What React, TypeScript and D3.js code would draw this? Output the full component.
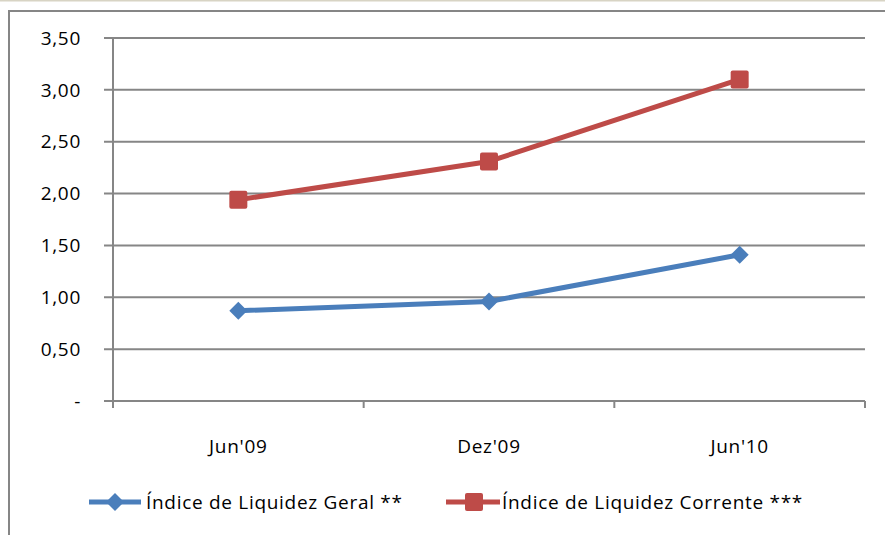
import React from "react";
import * as d3 from "d3";

const categories = ["Jun'09", "Dez'09", "Jun'10"];
const geral = [0.87, 0.96, 1.41];
const corrente = [1.94, 2.31, 3.1];
const yTicks = [0, 0.5, 1, 1.5, 2, 2.5, 3, 3.5];
const seriesNames = ["Índice de Liquidez Geral **", "Índice de Liquidez Corrente ***"];

const W = 885;
const H = 535;
const margin = { left: 113, right: 20, top: 38, bottom: 134 };
const BLUE = "#4a7ebb";
const RED = "#be4b48";
const GRID = "#868686";
const FONT = "Open Sans, Liberation Sans, sans-serif";
const FS = 19;
const LS = 0.7;

const fmt = (v: number) => (v === 0 ? "-" : v.toFixed(2).replace(".", ","));

export default function App() {
  const x = d3
    .scaleBand<string>()
    .domain(categories)
    .range([margin.left, W - margin.right]);
  const y = d3
    .scaleLinear()
    .domain([0, 3.5])
    .range([H - margin.bottom, margin.top]);

  const line = d3
    .line<number>()
    .x((_, i) => x(categories[i])! + x.bandwidth() / 2)
    .y((d) => y(d));

  const diamond = (cx: number, cy: number, r: number) =>
    `M${cx},${cy - r}L${cx + r},${cy}L${cx},${cy + r}L${cx - r},${cy}Z`;

  const xEdges = [...categories.map((c) => x(c)!), x(categories[2])! + x.bandwidth()];

  return (
    <svg
      width={W}
      height={H}
      style={{ position: "absolute", left: 0, top: 0 }}
      fontFamily={FONT}
      letterSpacing={LS}
    >
      <rect x={0} y={0} width={W} height={H} fill="#fff" />
      <line x1={0} x2={W} y1={0.5} y2={0.5} stroke="#d8d4c4" strokeWidth={2} />
      {/* frame */}
      <path d={`M9,${H}V11H${W}`} fill="none" stroke={GRID} strokeWidth={2} />

      {/* gridlines + y labels */}
      {yTicks.map((t) => (
        <g key={t}>
          <line
            x1={margin.left - 9}
            x2={W - margin.right}
            y1={y(t)}
            y2={y(t)}
            stroke={GRID}
            strokeWidth={2}
          />
          <text
            x={81}
            y={y(t)}
            dy="0.35em"
            textAnchor="end"
            fontSize={FS}
            fill="#000"
          >
            {fmt(t)}
          </text>
        </g>
      ))}
      {/* y axis */}
      <line
        x1={margin.left}
        x2={margin.left}
        y1={y(3.5)}
        y2={y(0) + 7}
        stroke={GRID}
        strokeWidth={2}
      />
      {/* x ticks */}
      {xEdges.map((ex, i) => (
        <line key={i} x1={ex} x2={ex} y1={y(0)} y2={y(0) + 7} stroke={GRID} strokeWidth={2} />
      ))}
      {categories.map((c) => (
        <text
          key={c}
          x={x(c)! + x.bandwidth() / 2}
          y={446}
          dy="0.35em"
          textAnchor="middle"
          fontSize={FS}
        >
          {c}
        </text>
      ))}

      {/* series */}
      <path d={line(geral)!} fill="none" stroke={BLUE} strokeWidth={5} strokeLinejoin="round" />
      {geral.map((v, i) => (
        <path
          key={i}
          d={diamond(x(categories[i])! + x.bandwidth() / 2, y(v), 9)}
          fill={BLUE}
        />
      ))}
      <path d={line(corrente)!} fill="none" stroke={RED} strokeWidth={5} strokeLinejoin="round" />
      {corrente.map((v, i) => (
        <rect
          key={i}
          x={x(categories[i])! + x.bandwidth() / 2 - 9}
          y={y(v) - 9}
          width={18}
          height={18}
          rx={2}
          fill={RED}
        />
      ))}

      {/* legend */}
      <g>
        <line x1={89} x2={141} y1={502} y2={502} stroke={BLUE} strokeWidth={5} />
        <path d={diamond(115, 502, 9)} fill={BLUE} />
        <text x={146} y={502} dy="0.35em" fontSize={FS}>
          {seriesNames[0]}
        </text>
        <line x1={446} x2={500} y1={502} y2={502} stroke={RED} strokeWidth={5} />
        <rect x={465} y={493} width={18} height={18} rx={2} fill={RED} />
        <text x={502} y={502} dy="0.35em" fontSize={FS}>
          {seriesNames[1]}
        </text>
      </g>
    </svg>
  );
}
